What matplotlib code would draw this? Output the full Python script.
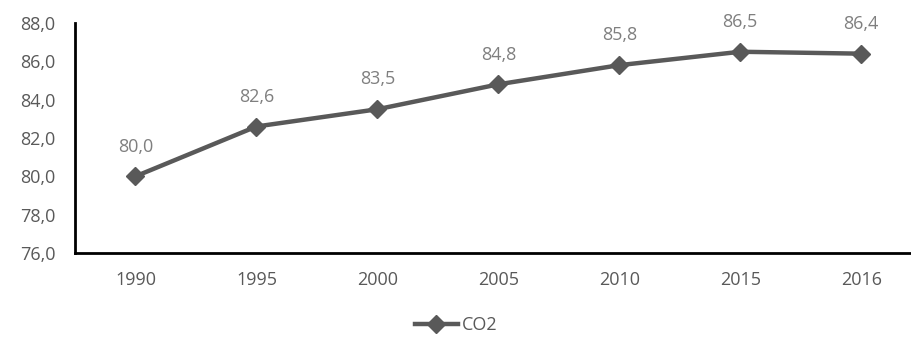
import matplotlib
matplotlib.use("Agg")
import matplotlib.pyplot as plt
from matplotlib.lines import Line2D

years = ["1990", "1995", "2000", "2005", "2010", "2015", "2016"]
co2 = [80.0, 82.6, 83.5, 84.8, 85.8, 86.5, 86.4]
series_name = "CO2"

plt.rcParams['font.family'] = ['Open Sans', 'DejaVu Sans']

fig = plt.figure(figsize=(9.12, 3.43), dpi=100)
ax = fig.add_axes([75/912, 1 - 253/343, 1 - 75/912, 230/343])

x = list(range(len(years)))
line_col = "#595959"
ax.plot(x, co2, color=line_col, lw=3.2, marker="D", markersize=9, zorder=3, clip_on=False)

for xi, v in zip(x, co2):
    ax.annotate(f"{v:.1f}".replace(".", ","), (xi, v), xytext=(0, 15), textcoords="offset points",
                ha="center", va="bottom", color="#7f7f7f", fontsize=13)

ax.set_ylim(76, 88)
ax.set_yticks([76, 78, 80, 82, 84, 86, 88])
ax.set_yticklabels([f"{t:.1f}".replace(".", ",") for t in [76, 78, 80, 82, 84, 86, 88]])
ax.set_xlim(-0.5, 6.42)
ax.set_xticks(x)
ax.set_xticklabels(years)

for s in ["top", "right"]:
    ax.spines[s].set_visible(False)
for s in ["left", "bottom"]:
    ax.spines[s].set_color("black")
    ax.spines[s].set_linewidth(2)
ax.tick_params(length=0, colors="#595959", labelsize=13)
ax.tick_params(axis="x", pad=13)
ax.tick_params(axis="y", pad=14)

handle = Line2D([], [], color=line_col, lw=3.2, marker="D", markersize=9)
fig.legend([handle], [series_name], loc="center", bbox_to_anchor=(0.5, 1 - 325/343),
           frameon=False, fontsize=13, labelcolor="#595959", handlelength=2.4, handletextpad=0.2)

fig.savefig("out.png", dpi=100)
